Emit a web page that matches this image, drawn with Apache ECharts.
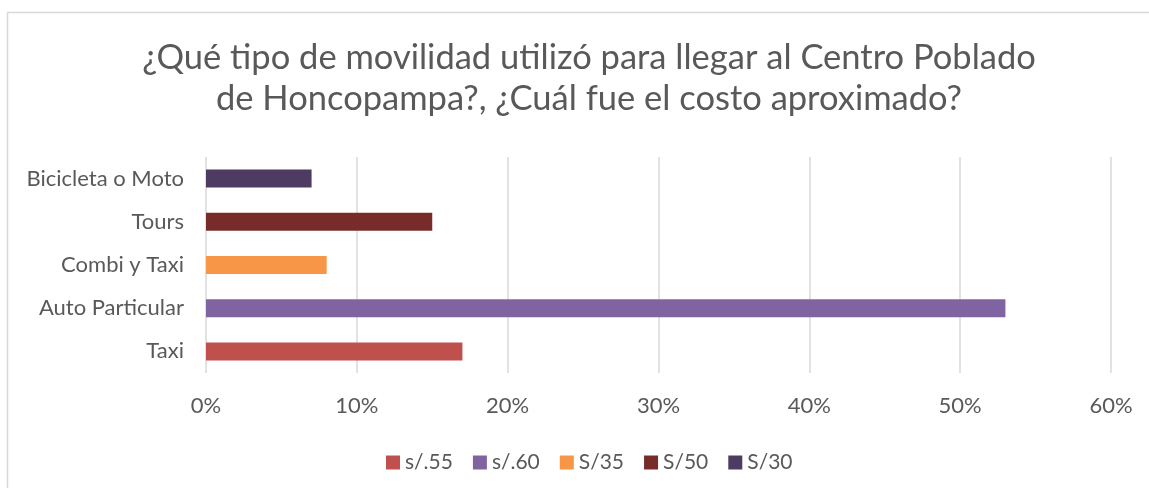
<!DOCTYPE html>
<html>
<head>
<meta charset="utf-8">
<script src="https://cdn.jsdelivr.net/npm/echarts@6/dist/echarts.min.js"></script>
<style>
  html, body { margin: 0; padding: 0; background: #fff; }
  #chart { width: 1149px; height: 488px; }
</style>
</head>
<body>
<div id="chart"></div>
<script>
// Transport modes (bottom to top on the axis)
const categories = ['Taxi', 'Auto Particular', 'Combi y Taxi', 'Tours', 'Bicicleta o Moto'];
// Approximate cost for each mode (legend entries)
const costLabels = ['s/.55', 's/.60', 'S/35', 'S/50', 'S/30'];
// Share of respondents (%) for each mode
const shares = [17, 53, 8, 15, 7];
// Axis tick settings
const xTicks = { min: 0, max: 60, interval: 10 };

const colors = ['#C0504D', '#8064A2', '#F79646', '#772C2A', '#4D3B62'];
const fontFamily = 'Lato, "Open Sans", sans-serif';
const textColor = '#595959';

const series = costLabels.map((name, i) => ({
  name: name,
  type: 'bar',
  stack: 'total',
  barWidth: 18,
  itemStyle: { color: colors[i] },
  data: categories.map((c, j) => (j === i ? shares[i] : '-'))
}));

const chart = echarts.init(document.getElementById('chart'));
chart.setOption({
  animation: false,
  backgroundColor: '#fff',
  title: {
    text: '¿Qué tipo de movilidad utilizó para llegar al Centro Poblado\nde Honcopampa?, ¿Cuál fue el costo aproximado?',
    left: 584,
    top: 32,
    textAlign: 'center',
    textStyle: {
      fontFamily: fontFamily,
      fontSize: 34.5,
      fontWeight: 'normal',
      color: textColor,
      lineHeight: 41,
      align: 'center'
    }
  },
  legend: {
    top: 447,
    left: 381,
    itemWidth: 14,
    itemHeight: 14,
    itemGap: 20,
    icon: 'rect',
    textStyle: { fontFamily: fontFamily, fontSize: 21, color: textColor },
    data: costLabels
  },
  grid: { left: 206, right: 38, top: 157, bottom: 115, containLabel: false },
  xAxis: {
    type: 'value',
    min: xTicks.min,
    max: xTicks.max,
    interval: xTicks.interval,
    axisLine: { show: false },
    axisTick: { show: false },
    axisLabel: {
      formatter: '{value}%',
      fontFamily: fontFamily,
      fontSize: 22,
      color: textColor,
      margin: 22
    },
    splitLine: { show: true, lineStyle: { color: '#D9D9D9', width: 1.5 } }
  },
  yAxis: {
    type: 'category',
    data: categories,
    axisLine: { show: false },
    axisTick: { show: false },
    axisLabel: {
      fontFamily: fontFamily,
      fontSize: 22,
      color: textColor,
      margin: 22
    }
  },
  graphic: [{
    type: 'rect',
    shape: { x: 7.5, y: 12.5, width: 1200, height: 600 },
    style: { fill: 'none', stroke: '#D9D9D9', lineWidth: 1.5 },
    silent: true,
    z: -1
  }],
  series: series
});
</script>
</body>
</html>
